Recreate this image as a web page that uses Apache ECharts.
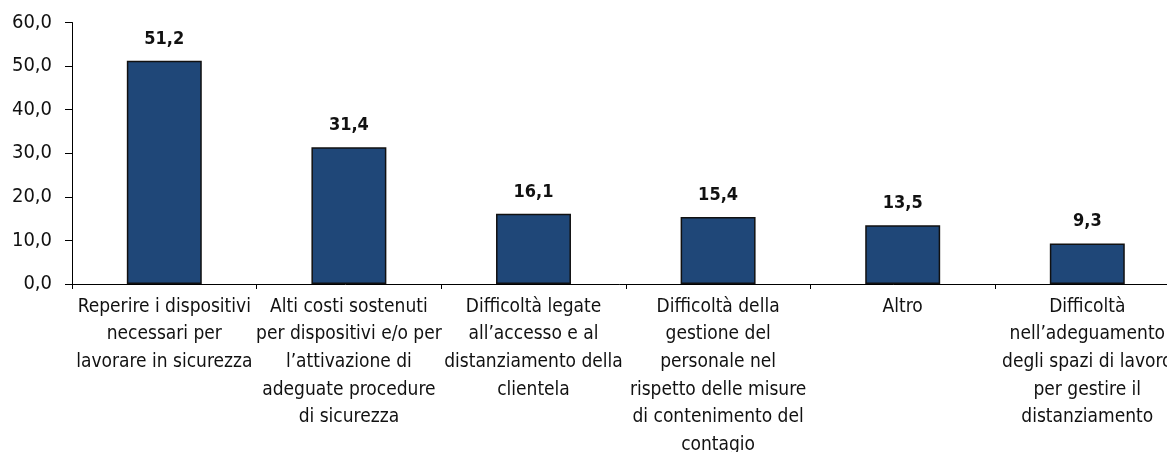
<!DOCTYPE html>
<html>
<head>
<meta charset="utf-8">
<script src="https://cdn.jsdelivr.net/npm/echarts@6/dist/echarts.min.js"></script>
<style>
html,body{margin:0;padding:0;background:#fff;}
#chart{width:1167px;height:452px;}
</style>
</head>
<body>
<div id="chart"></div>
<script>
const categories = [
  "Reperire i dispositivi\nnecessari per\nlavorare in sicurezza",
  "Alti costi sostenuti\nper dispositivi e/o per\nl\u2019attivazione di\nadeguate procedure\ndi sicurezza",
  "Difficoltà legate\nall\u2019accesso e al\ndistanziamento della\nclientela",
  "Difficoltà della\ngestione del\npersonale nel\nrispetto delle misure\ndi contenimento del\ncontagio",
  "Altro",
  "Difficoltà\nnell\u2019adeguamento\ndegli spazi di lavoro\nper gestire il\ndistanziamento"
];
const values = [51.2, 31.4, 16.1, 15.4, 13.5, 9.3];
const yMin = 0, yMax = 60, yInterval = 10;

const FONT = "'Liberation Sans Narrow', 'Arial Narrow', 'DejaVu Sans Condensed', sans-serif";
const fmt = v => v.toFixed(1).replace('.', ',');

const chart = echarts.init(document.getElementById('chart'), null, {renderer: 'canvas'});
chart.setOption({
  animation: false,
  backgroundColor: '#ffffff',
  grid: {left: 72, right: -12.6, top: 22.5, bottom: 168, containLabel: false, outerBoundsMode: 'none'},
  xAxis: {
    type: 'category',
    data: categories,
    boundaryGap: true,
    axisLine: {show: true, lineStyle: {color: '#000', width: 1}},
    axisTick: {show: true, length: 5, lineStyle: {color: '#000'}},
    axisLabel: {
      interval: 0,
      margin: 9,
      color: '#111',
      fontFamily: FONT,
      fontSize: 19,
      lineHeight: 27.6,
      align: 'center'
    },
    splitLine: {show: false}
  },
  yAxis: {
    type: 'value',
    min: yMin, max: yMax, interval: yInterval,
    axisLine: {show: true, lineStyle: {color: '#000', width: 1}},
    axisTick: {show: true, length: 7, lineStyle: {color: '#000'}},
    axisLabel: {
      margin: 20,
      color: '#111',
      fontFamily: FONT,
      fontSize: 20,
      formatter: fmt
    },
    splitLine: {show: false}
  },
  series: [{
    type: 'bar',
    data: values,
    barWidth: '40.6%',
    itemStyle: {color: '#1f4778', borderColor: '#111', borderWidth: 1.5},
    label: {
      show: true,
      position: 'top',
      distance: 13,
      color: '#111',
      fontFamily: FONT,
      fontWeight: 'bold',
      fontSize: 18,
      formatter: p => fmt(p.value)
    }
  }]
});
</script>
</body>
</html>
